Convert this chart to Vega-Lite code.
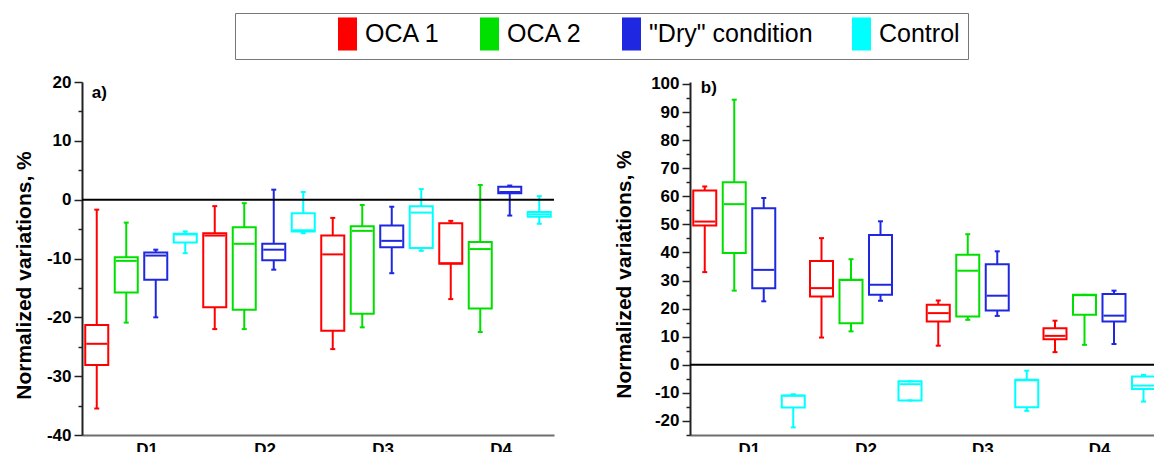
{
  "$schema": "https://vega.github.io/schema/vega-lite/v6.json",
  "padding": {"left": 13, "top": 12, "right": 0, "bottom": 0},
  "background": "#ffffff",
  "spacing": 58,
  "config": {
    "view": {"stroke": null},
    "font": "Liberation Sans",
    "tick": {"opacity": 1},
    "axis": {
      "labelFont": "Liberation Sans", "labelFontWeight": "bold", "labelFontSize": 17, "labelColor": "#000000",
      "titleFont": "Liberation Sans", "titleFontWeight": "bold", "titleFontSize": 21, "titleColor": "#000000",
      "domainWidth": 2, "tickWidth": 1.5, "grid": false, "labelOverlap": false
    },
    "legend": {
      "orient": "none", "legendX": 153, "legendY": -69, "direction": "horizontal",
      "labelFont": "Liberation Sans", "labelFontSize": 25, "labelColor": "#000000", "labelLimit": 600,
      "labelOffset": 5, "columnPadding": 36, "padding": 8,
      "strokeColor": "#777777",
      "symbolType": "M-1,-1.74L1,-1.74L1,1.74L-1,1.74Z", "symbolSize": 361, "symbolStrokeWidth": 0
    }
  },
  "datasets": {
    "a": [
      {"day": "D1", "group": "OCA 1", "min": -35.5, "q1": -28.1, "median": -24.5, "q3": -21.3, "max": -1.7},
      {"day": "D1", "group": "OCA 2", "min": -20.9, "q1": -15.8, "median": -10.4, "q3": -9.8, "max": -3.9},
      {"day": "D1", "group": "\"Dry\" condition", "min": -20.0, "q1": -13.6, "median": -9.5, "q3": -9.0, "max": -8.5},
      {"day": "D1", "group": "Control", "min": -9.1, "q1": -7.3, "median": -5.9, "q3": -5.8, "max": -5.4},
      {"day": "D2", "group": "OCA 1", "min": -22.0, "q1": -18.3, "median": -6.1, "q3": -5.7, "max": -1.1},
      {"day": "D2", "group": "OCA 2", "min": -22.0, "q1": -18.7, "median": -7.5, "q3": -4.7, "max": -0.6},
      {"day": "D2", "group": "\"Dry\" condition", "min": -11.9, "q1": -10.3, "median": -8.5, "q3": -7.5, "max": 1.7},
      {"day": "D2", "group": "Control", "min": -5.7, "q1": -5.4, "median": -5.2, "q3": -2.3, "max": 1.3},
      {"day": "D3", "group": "OCA 1", "min": -25.4, "q1": -22.3, "median": -9.3, "q3": -6.1, "max": -3.1},
      {"day": "D3", "group": "OCA 2", "min": -21.7, "q1": -19.4, "median": -5.3, "q3": -4.5, "max": -0.9},
      {"day": "D3", "group": "\"Dry\" condition", "min": -12.5, "q1": -8.1, "median": -7.0, "q3": -4.4, "max": -1.2},
      {"day": "D3", "group": "Control", "min": -8.7, "q1": -8.2, "median": -2.2, "q3": -1.1, "max": 1.8},
      {"day": "D4", "group": "OCA 1", "min": -16.9, "q1": -10.9, "median": -10.8, "q3": -4.0, "max": -3.6},
      {"day": "D4", "group": "OCA 2", "min": -22.5, "q1": -18.5, "median": -8.4, "q3": -7.2, "max": 2.5},
      {"day": "D4", "group": "\"Dry\" condition", "min": -2.7, "q1": 1.1, "median": 1.3, "q3": 2.2, "max": 2.4},
      {"day": "D4", "group": "Control", "min": -4.1, "q1": -2.9, "median": -2.5, "q3": -2.1, "max": 0.6}
    ],
    "b": [
      {"day": "D1", "group": "OCA 1", "min": 33.0, "q1": 49.6, "median": 51.0, "q3": 62.1, "max": 63.5},
      {"day": "D1", "group": "OCA 2", "min": 26.4, "q1": 39.8, "median": 57.2, "q3": 65.0, "max": 94.4},
      {"day": "D1", "group": "\"Dry\" condition", "min": 22.6, "q1": 27.3, "median": 33.8, "q3": 55.7, "max": 59.4},
      {"day": "D1", "group": "Control", "min": -22.3, "q1": -15.2, "median": -11.0, "q3": -10.9, "max": -10.5},
      {"day": "D2", "group": "OCA 1", "min": 9.7, "q1": 24.3, "median": 27.3, "q3": 37.0, "max": 45.1},
      {"day": "D2", "group": "OCA 2", "min": 11.9, "q1": 14.8, "median": 30.2, "q3": 30.3, "max": 37.6},
      {"day": "D2", "group": "\"Dry\" condition", "min": 22.8, "q1": 24.9, "median": 28.5, "q3": 46.2, "max": 51.1},
      {"day": "D2", "group": "Control", "min": -12.7, "q1": -12.7, "median": -6.9, "q3": -5.9, "max": -5.9},
      {"day": "D3", "group": "OCA 1", "min": 6.8, "q1": 15.4, "median": 18.4, "q3": 21.4, "max": 22.9},
      {"day": "D3", "group": "OCA 2", "min": 16.0, "q1": 17.2, "median": 33.5, "q3": 39.2, "max": 46.5},
      {"day": "D3", "group": "\"Dry\" condition", "min": 17.4, "q1": 19.3, "median": 24.6, "q3": 35.8, "max": 40.4},
      {"day": "D3", "group": "Control", "min": -16.4, "q1": -15.1, "median": -5.5, "q3": -5.3, "max": -2.1},
      {"day": "D4", "group": "OCA 1", "min": 4.5, "q1": 9.1, "median": 10.3, "q3": 13.0, "max": 15.7},
      {"day": "D4", "group": "OCA 2", "min": 7.1, "q1": 17.8, "median": 24.8, "q3": 24.9, "max": 24.9},
      {"day": "D4", "group": "\"Dry\" condition", "min": 7.4, "q1": 15.4, "median": 17.5, "q3": 25.2, "max": 26.4},
      {"day": "D4", "group": "Control", "min": -13.1, "q1": -8.6, "median": -7.4, "q3": -4.2, "max": -3.6}
    ]
  },
  "hconcat": [
    {
      "width": 472, "height": 353,
      "layer": [
        {
          "data": {"name": "a"},
          "encoding": {
            "x": {"field": "day", "type": "nominal", "title": null, "scale": {"paddingInner": 0, "paddingOuter": 0},
                  "axis": {"labelAngle": 0, "ticks": false, "labelPadding": 6, "labelOffset": 6, "domainColor": "#6e6e6e"}},
            "xOffset": {"field": "group", "type": "nominal", "scale": {"domain": ["OCA 1", "OCA 2", "\"Dry\" condition", "Control"], "paddingInner": 0.22, "paddingOuter": 0.11}},
            "color": {"field": "group", "type": "nominal",
                      "scale": {"domain": ["OCA 1", "OCA 2", "\"Dry\" condition", "Control"], "range": ["#ff0000", "#00e000", "#1f28e0", "#00ffff"]},
                      "legend": {"title": "\u00a0", "titleOrient": "left", "titlePadding": 92, "titleFontSize": 10,
                                 "encode": {"symbols": {"update": {"fill": {"scale": "color", "field": "value"}, "fillOpacity": {"value": 1}, "stroke": {"value": "transparent"}}}}}}
          },
          "layer": [
            {"mark": {"type": "bar", "filled": false, "strokeWidth": 2},
             "encoding": {
               "y": {"field": "q1", "type": "quantitative", "title": "Normalized variations, %",
                     "scale": {"domain": [-40, 20], "nice": false, "zero": false},
                     "axis": {"values": [-40, -35, -30, -25, -20, -15, -10, -5, 0, 5, 10, 15, 20], "tickCount": 100, "labelOverlap": false,
                              "labelExpr": "datum.value % 10 == 0 ? '' + datum.value : ''",
                              "tickSize": {"condition": {"test": "datum.value % 10 != 0", "value": 4}, "value": 8},
                              "labelPadding": 3, "domainColor": "#222222", "tickColor": "#222222",
                              "titleX": -48, "titleY": 193}},
               "y2": {"field": "q3"}}},
            {"mark": {"type": "rule", "strokeWidth": 2},
             "encoding": {"y": {"field": "min", "type": "quantitative", "title": "Normalized variations, %"}, "y2": {"field": "q1"}}},
            {"mark": {"type": "rule", "strokeWidth": 2},
             "encoding": {"y": {"field": "q3", "type": "quantitative", "title": "Normalized variations, %"}, "y2": {"field": "max"}}},
            {"mark": {"type": "tick", "thickness": 2, "size": 21, "opacity": 1},
             "encoding": {"y": {"field": "median", "type": "quantitative", "title": "Normalized variations, %"}}},
            {"mark": {"type": "tick", "thickness": 2, "size": 5, "opacity": 1},
             "encoding": {"y": {"field": "min", "type": "quantitative", "title": "Normalized variations, %"}}},
            {"mark": {"type": "tick", "thickness": 2, "size": 5, "opacity": 1},
             "encoding": {"y": {"field": "max", "type": "quantitative", "title": "Normalized variations, %"}}}
          ]
        },
        {"data": {"values": [{}]}, "mark": {"type": "rule", "color": "#000000", "strokeWidth": 2}, "encoding": {"y": {"datum": 0}}},
        {"data": {"values": [{}]}, "mark": {"type": "text", "text": "a)", "font": "Liberation Sans", "fontWeight": "bold", "fontSize": 17, "align": "left", "baseline": "alphabetic", "dx": -5, "color": "#000000"},
         "encoding": {"x": {"datum": "D1"}, "xOffset": {"datum": "OCA 1"}, "y": {"datum": 17.3}}}
      ]
    },
    {
      "width": 467, "height": 353,
      "layer": [
        {
          "data": {"name": "b"},
          "encoding": {
            "x": {"field": "day", "type": "nominal", "title": null, "scale": {"paddingInner": 0, "paddingOuter": 0},
                  "axis": {"labelAngle": 0, "ticks": false, "labelPadding": 6, "labelOffset": 1, "domainColor": "#6e6e6e"}},
            "xOffset": {"field": "group", "type": "nominal", "scale": {"domain": ["OCA 1", "OCA 2", "\"Dry\" condition", "Control"], "paddingInner": 0.22, "paddingOuter": 0.11}},
            "color": {"field": "group", "type": "nominal",
                      "scale": {"domain": ["OCA 1", "OCA 2", "\"Dry\" condition", "Control"], "range": ["#ff0000", "#00e000", "#1f28e0", "#00ffff"]},
                      "legend": {"title": "\u00a0", "titleOrient": "left", "titlePadding": 92, "titleFontSize": 10,
                                 "encode": {"symbols": {"update": {"fill": {"scale": "color", "field": "value"}, "fillOpacity": {"value": 1}, "stroke": {"value": "transparent"}}}}}}
          },
          "layer": [
            {"mark": {"type": "bar", "filled": false, "strokeWidth": 2},
             "encoding": {
               "y": {"field": "q1", "type": "quantitative", "title": "Normalized variations, %",
                     "scale": {"domain": [-25, 100.7], "nice": false, "zero": false},
                     "axis": {"values": [-25, -20, -15, -10, -5, 0, 5, 10, 15, 20, 25, 30, 35, 40, 45, 50, 55, 60, 65, 70, 75, 80, 85, 90, 95, 100], "tickCount": 100, "labelOverlap": false,
                              "labelExpr": "datum.value % 10 == 0 ? '' + datum.value : ''",
                              "tickSize": {"condition": {"test": "datum.value % 10 != 0", "value": 4}, "value": 8},
                              "labelPadding": 3, "domainColor": "#222222", "tickColor": "#222222",
                              "titleX": -56, "titleY": 192}},
               "y2": {"field": "q3"}}},
            {"mark": {"type": "rule", "strokeWidth": 2},
             "encoding": {"y": {"field": "min", "type": "quantitative", "title": "Normalized variations, %"}, "y2": {"field": "q1"}}},
            {"mark": {"type": "rule", "strokeWidth": 2},
             "encoding": {"y": {"field": "q3", "type": "quantitative", "title": "Normalized variations, %"}, "y2": {"field": "max"}}},
            {"mark": {"type": "tick", "thickness": 2, "size": 21, "opacity": 1},
             "encoding": {"y": {"field": "median", "type": "quantitative", "title": "Normalized variations, %"}}},
            {"mark": {"type": "tick", "thickness": 2, "size": 5, "opacity": 1},
             "encoding": {"y": {"field": "min", "type": "quantitative", "title": "Normalized variations, %"}}},
            {"mark": {"type": "tick", "thickness": 2, "size": 5, "opacity": 1},
             "encoding": {"y": {"field": "max", "type": "quantitative", "title": "Normalized variations, %"}}}
          ]
        },
        {"data": {"values": [{}]}, "mark": {"type": "rule", "color": "#000000", "strokeWidth": 2}, "encoding": {"y": {"datum": 0}}},
        {"data": {"values": [{}]}, "mark": {"type": "text", "text": "b)", "font": "Liberation Sans", "fontWeight": "bold", "fontSize": 17, "align": "left", "baseline": "alphabetic", "dx": -4, "color": "#000000"},
         "encoding": {"x": {"datum": "D1"}, "xOffset": {"datum": "OCA 1"}, "y": {"datum": 96.7}}}
      ]
    }
  ]
}
